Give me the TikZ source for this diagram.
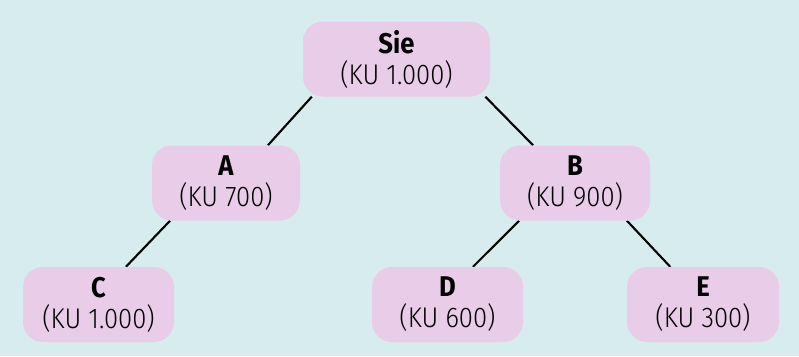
\documentclass[tikz,border=0pt]{standalone}
\usepackage{fontspec}
\setmainfont{Fira Sans Light}[BoldFont={Fira Sans Bold}, FakeStretch=0.9]
\definecolor{bgcol}{RGB}{215,236,238}
\definecolor{boxcol}{RGB}{232,204,232}
\pgfdeclarelayer{bg}
\pgfsetlayers{bg,main}
\begin{document}
\begin{tikzpicture}[x=1pt,y=-1pt,
  person/.style={fill=boxcol, rounded corners=20pt, minimum width=150pt, minimum height=75pt,
    inner sep=0pt, align=center, font=\fontsize{28.5}{31}\selectfont, text=black},
  link/.style={draw=black, line width=2.1pt}]
\useasboundingbox (0,0) rectangle (799,356);
\node[person, minimum width=187pt] (Sie) at (396.5,59) {\textbf{Sie}\\(KU 1.000)};
\node[person, minimum width=148pt] (A) at (226,183) {\textbf{A}\\(KU 700)};
\node[person] (B) at (575,183) {\textbf{B}\\(KU 900)};
\node[person, minimum width=151pt] (C) at (98.5,304.5) {\textbf{C}\\(KU 1.000)};
\node[person, minimum width=151pt] (D) at (447.5,304.5) {\textbf{D}\\(KU 600)};
\node[person, minimum width=152pt] (E) at (703,304.5) {\textbf{E}\\(KU 300)};
\begin{pgfonlayer}{bg}
  \fill[bgcol] (0,0) rectangle (799,356);
  \draw[link] (Sie.204.6) -- (A.42);
  \draw[link] (Sie.337.4) -- (B.138.6);
  \draw[link] (A.214.4) -- (C.54.8);
  \draw[link] (B.214) -- (D.56.8);
  \draw[link] (B.324) -- (E.131);
\end{pgfonlayer}
\end{tikzpicture}
\end{document}
